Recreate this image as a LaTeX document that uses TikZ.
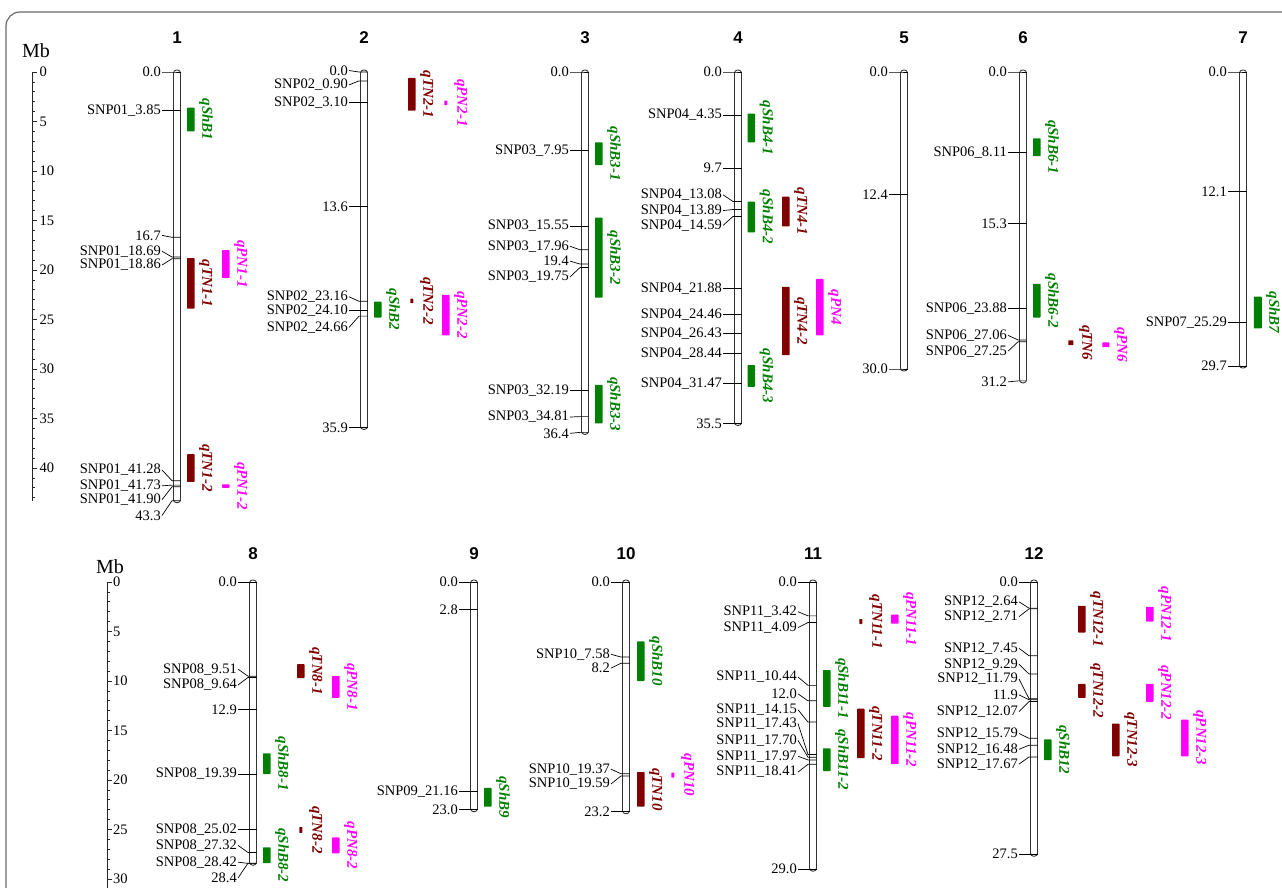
\documentclass[tikz,border=0pt]{standalone}
\usepackage{fontspec}
\setmainfont{Liberation Serif}
\newfontfamily\chrfont{Liberation Sans}
\usetikzlibrary{positioning}
\definecolor{shbgreen}{RGB}{0,128,0}
\definecolor{tnred}{RGB}{128,0,0}
\definecolor{pnpink}{RGB}{255,0,255}
\definecolor{framegray}{RGB}{105,105,105}

\begin{document}
\begin{tikzpicture}[
    x=1pt, y=-1pt,
    chrom/.style={draw=black!80, line width=0.9pt, fill=white, rounded corners=3pt},
    tick/.style={draw=black, line width=0.7pt},
    lab/.style={font=\fontsize{14.5}{16}\selectfont, inner sep=1pt, anchor=east},
    num/.style={font=\chrfont\bfseries\fontsize{17}{19}\selectfont, inner sep=0pt},
    unit/.style={font=\fontsize{20}{22}\selectfont, inner sep=0pt},
    qlab/.style={font=\bfseries\itshape\fontsize{15}{16}\selectfont, rotate=-90, anchor=south, inner sep=1pt},
    axis/.style={draw=black!85, line width=0.8pt},
    axlab/.style={font=\fontsize{14.5}{16}\selectfont, inner sep=1pt, anchor=west}
  ]
  \useasboundingbox (0,0) rectangle (1282,887);

  % frame
  \draw[framegray, line width=1.2pt, rounded corners=14pt] (6,940) -- (6,12) -- (1330,12);

  % ---------------- top row ----------------
  \begin{scope}[shift={(0,72)}, y=-9.9pt]
    % Mb scale
    \node[unit] (mbtop) at (36,-2.2) {Mb};
    \draw[axis] (32,0) -- (32,43.3);
    \foreach \k in {0,...,43} \draw[axis] (32,\k) -- (34.5,\k);
    \foreach \k in {0,5,...,40} {
      \draw[axis] (32,\k) -- (37,\k);
      \node[axlab] (sa\k) at (38.5,\k) {\k};
    }

    % chromosomes
    \foreach \x/\len/\n in {177/43.3/1, 364/35.9/2, 585/36.4/3, 738/35.5/4,
                            904/30.0/5, 1023/31.2/6, 1243/29.7/7} {
      \draw[chrom] (\x-3.5,-0.2) rectangle (\x+3.5,\len+0.2);
      \node[num] (chr\n) at (\x,-3.5) {\n};
    }

    % markers: chromosome x / position / label position / text
    \foreach \x/\m/\lp/\txt [count=\j] in {
        177/0/0/0.0, 177/3.85/3.85/SNP01\_3.85, 177/16.7/16.5/16.7,
        177/18.69/18.1/SNP01\_18.69, 177/18.86/19.5/SNP01\_18.86,
        177/41.28/40.2/SNP01\_41.28, 177/41.73/41.8/SNP01\_41.73,
        177/41.90/43.2/SNP01\_41.90, 177/43.3/44.8/43.3,
        364/0/-0.15/0.0, 364/0.90/1.3/SNP02\_0.90, 364/3.10/3.10/SNP02\_3.10,
        364/13.6/13.6/13.6, 364/23.16/22.7/SNP02\_23.16, 364/24.10/24.1/SNP02\_24.10,
        364/24.66/25.8/SNP02\_24.66, 364/35.9/35.9/35.9,
        585/0/0/0.0, 585/7.95/7.95/SNP03\_7.95, 585/15.55/15.55/SNP03\_15.55,
        585/17.96/17.6/SNP03\_17.96, 585/19.4/19.1/19.4, 585/19.75/20.7/SNP03\_19.75,
        585/32.19/32.19/SNP03\_32.19, 585/34.81/34.85/SNP03\_34.81, 585/36.4/36.5/36.4,
        738/0/0/0.0, 738/4.35/4.35/SNP04\_4.35, 738/9.7/9.7/9.7,
        738/13.08/12.4/SNP04\_13.08, 738/13.89/14.0/SNP04\_13.89, 738/14.59/15.5/SNP04\_14.59,
        738/21.88/21.88/SNP04\_21.88, 738/24.46/24.46/SNP04\_24.46, 738/26.43/26.43/SNP04\_26.43,
        738/28.44/28.44/SNP04\_28.44, 738/31.47/31.47/SNP04\_31.47, 738/35.5/35.5/35.5,
        904/0/0/0.0, 904/12.4/12.4/12.4, 904/30/30/30.0,
        1023/0/0/0.0, 1023/8.11/8.11/SNP06\_8.11, 1023/15.3/15.3/15.3,
        1023/23.88/23.88/SNP06\_23.88, 1023/27.06/26.6/SNP06\_27.06,
        1023/27.25/28.2/SNP06\_27.25, 1023/31.2/31.3/31.2,
        1243/0/0/0.0, 1243/12.1/12.1/12.1, 1243/25.29/25.29/SNP07\_25.29, 1243/29.7/29.7/29.7} {
      \node[lab] (mka\j) at (\x-15,\lp) {\txt};
      \draw[tick] (mka\j.east) -- (\x-5,\m) -- (\x+3.5,\m);
    }

    % QTL: column x / from / to / colour / width / name
    \foreach \x/\ya/\yb/\col/\w/\txt [count=\j] in {
        187/3.6/6.0/shbgreen/7.5/qShB1, 187/18.8/23.9/tnred/7.5/qTN1-1,
        222/18.0/20.8/pnpink/7.5/qPN1-1, 187/38.6/41.4/tnred/7.5/qTN1-2,
        222/41.65/42.0/pnpink/7.5/qPN1-2,
        408/0.6/3.9/tnred/7.5/qTN2-1, 442/2.9/3.35/pnpink/3/qPN2-1,
        374/23.2/24.8/shbgreen/7.5/qShB2, 408/22.9/23.35/tnred/3/qTN2-2,
        442/22.5/26.6/pnpink/7.5/qPN2-2,
        595/7.1/9.4/shbgreen/7.5/qShB3-1, 595/14.7/22.8/shbgreen/7.5/qShB3-2,
        595/31.6/35.5/shbgreen/7.5/qShB3-3,
        747.5/4.2/7.1/shbgreen/7.5/qShB4-1, 747.5/13.1/16.2/shbgreen/7.5/qShB4-2,
        747.5/29.6/31.8/shbgreen/7.5/qShB4-3, 782/12.6/15.6/tnred/7.5/qTN4-1,
        782/21.7/28.6/tnred/7.5/qTN4-2, 816/20.9/26.6/pnpink/7.5/qPN4,
        1033/6.7/8.5/shbgreen/7.5/qShB6-1, 1033/21.4/24.8/shbgreen/7.5/qShB6-2,
        1067/27.1/27.6/tnred/5/qTN6, 1102/27.3/27.8/pnpink/7/qPN6,
        1254/22.7/25.9/shbgreen/8/qShB7} {
      \fill[\col, rounded corners=0.6pt] (\x+3.75-\w/2,\ya) rectangle (\x+3.75+\w/2,\yb);
      \node[qlab, text=\col] (qa\j) at (\x+11,{(\ya+\yb)/2}) {\txt};
    }
  \end{scope}

  % ---------------- bottom row ----------------
  \begin{scope}[shift={(0,582)}, y=-9.9pt]
    % Mb scale
    \node[unit] (mbbot) at (110,-1.55) {Mb};
    \draw[axis] (107,0) -- (107,32);
    \foreach \k in {0,...,32} \draw[axis] (107,\k) -- (109.5,\k);
    \foreach \k in {0,5,...,30} {
      \draw[axis] (107,\k) -- (112,\k);
      \node[axlab] (sb\k) at (112,\k) {\k};
    }

    % chromosomes
    \foreach \x/\len/\n in {253/28.4/8, 474/23.0/9, 626/23.2/10, 813/29.0/11, 1034/27.5/12} {
      \draw[chrom] (\x-3.5,-0.2) rectangle (\x+3.5,\len+0.2);
      \node[num] (chr\n) at (\x,-2.83) {\n};
    }

    % markers
    \foreach \x/\m/\lp/\txt [count=\j] in {
        253/0/0/0.0, 253/9.51/8.8/SNP08\_9.51, 253/9.64/10.4/SNP08\_9.64,
        253/12.9/12.9/12.9, 253/19.39/19.39/SNP08\_19.39, 253/25.02/25.02/SNP08\_25.02,
        253/27.32/26.6/SNP08\_27.32, 253/28.42/28.3/SNP08\_28.42, 253/28.4/29.9/28.4,
        474/0/0/0.0, 474/2.8/2.8/2.8, 474/21.16/21.16/SNP09\_21.16, 474/23.0/23.0/23.0,
        626/0/0/0.0, 626/7.58/7.3/SNP10\_7.58, 626/8.2/8.7/8.2,
        626/19.37/18.9/SNP10\_19.37, 626/19.59/20.4/SNP10\_19.59, 626/23.2/23.2/23.2,
        813/0/0/0.0, 813/3.42/3.0/SNP11\_3.42, 813/4.09/4.6/SNP11\_4.09,
        813/10.44/9.6/SNP11\_10.44, 813/12.0/11.3/12.0, 813/14.15/12.9/SNP11\_14.15,
        813/17.43/14.3/SNP11\_17.43, 813/17.70/16.0/SNP11\_17.70, 813/17.97/17.6/SNP11\_17.97,
        813/18.41/19.2/SNP11\_18.41, 813/29.0/29.0/29.0,
        1034/0/0/0.0, 1034/2.64/2.0/SNP12\_2.64, 1034/2.71/3.5/SNP12\_2.71,
        1034/7.45/6.7/SNP12\_7.45, 1034/9.29/8.3/SNP12\_9.29, 1034/11.79/9.8/SNP12\_11.79,
        1034/11.9/11.4/11.9, 1034/12.07/13.1/SNP12\_12.07, 1034/15.79/15.3/SNP12\_15.79,
        1034/16.48/16.9/SNP12\_16.48, 1034/17.67/18.4/SNP12\_17.67, 1034/27.5/27.5/27.5} {
      \node[lab] (mkb\j) at (\x-15,\lp) {\txt};
      \draw[tick] (mkb\j.east) -- (\x-5,\m) -- (\x+3.5,\m);
    }

    % QTL
    \foreach \x/\ya/\yb/\col/\w/\txt [count=\j] in {
        263/17.3/19.4/shbgreen/7.5/qShB8-1, 263/26.8/28.4/shbgreen/7.5/qShB8-2,
        297/8.3/9.7/tnred/7.5/qTN8-1, 297/24.75/25.35/tnred/3/qTN8-2,
        332/9.5/11.7/pnpink/7.5/qPN8-1, 332/25.8/27.4/pnpink/7.5/qPN8-2,
        484/20.8/22.7/shbgreen/7.5/qShB9,
        637/6.0/10.0/shbgreen/7.5/qShB10, 637/19.2/22.7/tnred/7.5/qTN10,
        669/19.25/19.75/pnpink/3/qPN10,
        823/8.9/12.6/shbgreen/7.5/qShB11-1, 823/16.8/19.1/shbgreen/7.5/qShB11-2,
        857/3.75/4.25/tnred/3/qTN11-1, 857/12.8/17.8/tnred/7.5/qTN11-2,
        891/3.3/4.2/pnpink/7.5/qPN11-1, 891/13.5/18.4/pnpink/7.5/qPN11-2,
        1044/15.9/18.0/shbgreen/7.5/qShB12,
        1078/2.4/5.1/tnred/7.5/qTN12-1, 1078/10.3/11.7/tnred/7.5/qTN12-2,
        1112/14.3/17.6/tnred/7.5/qTN12-3,
        1146/2.5/4.0/pnpink/7.5/qPN12-1, 1146/10.3/12.1/pnpink/7.5/qPN12-2,
        1181/13.9/17.6/pnpink/7.5/qPN12-3} {
      \fill[\col, rounded corners=0.6pt] (\x+3.75-\w/2,\ya) rectangle (\x+3.75+\w/2,\yb);
      \node[qlab, text=\col] (qb\j) at (\x+11,{(\ya+\yb)/2}) {\txt};
    }
  \end{scope}
\end{tikzpicture}
\end{document}
